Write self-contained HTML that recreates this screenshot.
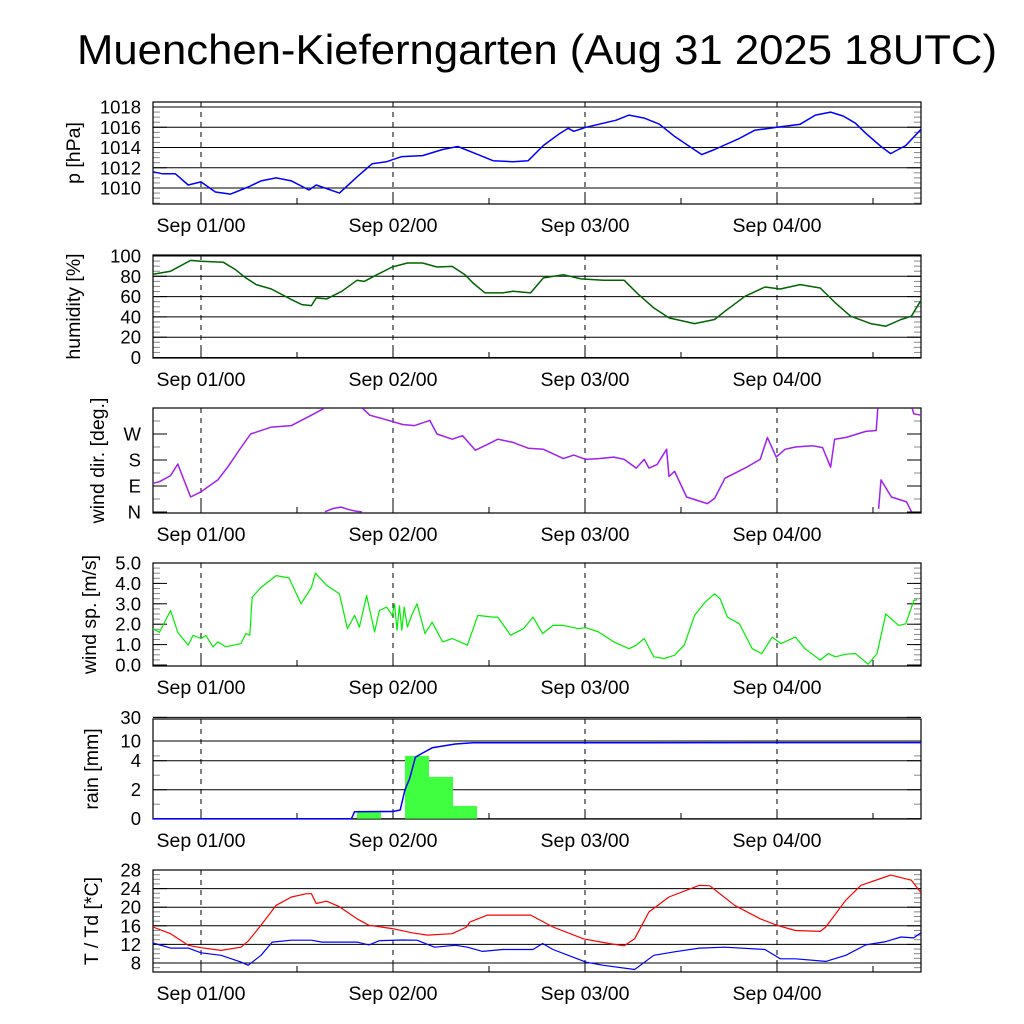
<!DOCTYPE html>
<html><head><meta charset="utf-8"><style>
body{margin:0;background:#fff}
svg{display:block;font-family:"Liberation Sans",sans-serif}
</style></head><body>
<svg id="chart" width="1024" height="1024" viewBox="0 0 1024 1024">
<rect width="1024" height="1024" fill="#fff"/>
<text x="537" y="64" font-size="42" text-anchor="middle" textLength="920" lengthAdjust="spacingAndGlyphs">Muenchen-Kieferngarten (Aug 31 2025 18UTC)</text>
<g id="g"></g>
</svg>
<script>
// ---- data (hours since Aug 31 18UTC) ----
const dayLabels=["Sep 01/00","Sep 02/00","Sep 03/00","Sep 04/00"];
const dayHours=[6,30,54,78];
const pHours=[0,1.2,2.8,4.4,6,7.8,9.7,11.9,13.5,15.4,17.3,19.5,20.4,23.3,25.5,27.4,29.2,31.1,33.7,36.2,38.1,40,42.5,45,46.9,48.8,50.7,51.9,52.6,54.1,56.3,57.9,59.5,61.4,63.3,65.2,66.7,68.6,70.2,73.3,75.2,78,80.9,82.8,84.7,86.3,87.8,89.1,91,92.2,94.1,96];
const pVals=[1011.6,1011.4,1011.4,1010.3,1010.6,1009.6,1009.4,1010.1,1010.7,1011.0,1010.7,1009.8,1010.3,1009.5,1011.1,1012.4,1012.6,1013.1,1013.2,1013.8,1014.1,1013.5,1012.7,1012.6,1012.7,1014.2,1015.3,1015.9,1015.6,1016.0,1016.4,1016.7,1017.2,1016.9,1016.3,1015.1,1014.3,1013.3,1013.8,1014.9,1015.7,1016.0,1016.3,1017.2,1017.5,1017.1,1016.4,1015.4,1014.1,1013.4,1014.2,1015.8];
const hHours=[0,2.2,4.7,6,8.8,10.3,11.6,12.9,14.8,17.3,18.6,19.8,20.4,21.7,23.6,25.5,26.4,28,29.9,31.8,33.7,35.5,37.4,39,40,41.5,43.7,45,47.2,48.8,51.3,53.5,56.3,58.9,60.7,62.6,64.5,67.7,70.2,71.5,74,76.5,78.4,80.9,83.4,85.3,87.2,89.7,91.6,93.5,94.8,96];
const hVals=[82,85,95.7,94.8,93.8,86.6,78.4,71.8,67.5,57,52.1,51.1,58.7,57.7,65.2,76.1,75,81.6,89.2,93.1,93.1,89.2,89.8,81.6,73.4,63.6,63.6,65.2,63.6,78.4,81.6,77.4,76.1,76.1,62,48.9,39,33.4,37.4,45.6,60.3,69.5,67.5,71.8,68.5,53.8,40.7,33.4,30.8,37.4,40.7,56.4];
const dHours=[0,0.8,2.2,3.1,3.7,4.7,6,8.1,9.4,10.7,12.2,14.8,17.3,19.8,21.4,21.5,22.5,23.5,24.5,25.5,26.1,26.2,27.1,28.7,31.2,32.7,34.6,35.5,37.4,38.7,40.3,41.9,43.1,45,46.9,48.8,51.3,52.6,54.1,55.7,57.6,58.9,60.4,61.4,62,63,64.2,64.5,65.2,66.7,69.3,70.2,71.5,74,75.9,76.8,77.9,79,80.3,82.5,83.7,84.7,85.2,86.6,89.1,90.4,90.6,90.7,91,92.3,94.2,94.8,94.9,95.1,96];
const dVals=[99.5,105,126,166,123,52,70,111,158,211,270,294,299,335,359,1,12,17,8,2,1,359,335,323,303,299,317,270,252,264,214,235,252,241,221,217,185,197,182,185,190,182,152,182,152,164,217,123,141,52,29,47,117,152,182,258,190,217,225,229,223,155,252,258,279,282,359,11,111,52,35,1,359,340,335];
const sHours=[0,0.8,2.2,3.1,4.4,5,6,6.6,7.5,8.1,9.1,11,11.6,12.1,12.4,13.5,15.4,17,18.5,19.8,20.3,21.7,23.3,24.3,25.2,25.8,26.7,27.7,28.3,29.2,29.9,30.2,30.5,30.8,31.1,31.4,31.8,32.4,33,34,34.9,36.2,37.4,38.4,39.3,40.6,42.5,43.1,44.7,46.3,47.5,48.7,50,51.3,53.2,54.1,55.7,57.6,59.5,60.4,61.4,62.6,63.9,65.2,66.4,67.7,69,70.2,70.9,71.8,73.3,74.9,76.1,77.4,78.5,80.3,81.5,83.4,84.4,85.3,86.6,87.8,89.4,90.5,91.6,93.2,94.1,95.1,95.5,96];
const sVals=[1.78,1.6,2.67,1.6,0.97,1.45,1.3,1.45,0.89,1.13,0.89,1.05,1.54,1.46,3.33,3.8,4.38,4.27,3.0,3.8,4.5,3.9,3.49,1.78,2.43,1.86,3.4,1.62,2.67,2.84,2.43,3.0,1.7,2.9,1.7,2.84,1.86,2.5,3.0,1.54,2.1,1.13,1.3,1.13,0.97,2.43,2.35,2.35,1.46,1.78,2.35,1.54,1.94,1.94,1.78,1.83,1.62,1.13,0.8,0.97,1.3,0.4,0.32,0.48,0.97,2.43,3.08,3.49,3.24,2.35,2.02,0.8,0.56,1.37,1.05,1.37,0.8,0.24,0.56,0.4,0.53,0.56,0.04,0.56,2.5,1.94,2.02,3.16,3.2].slice(0,90);
const rainBinStart=[25.5,28.5,31.5,34.5,37.5];
const rainBinVals=[0.48,0,5.0,2.88,0.88];
const rainCumHours=[0,24.8,25.2,30,30.9,31.5,32.1,32.8,33.6,34.9,37.8,40,96];
const rainCumVals=[0,0,0.48,0.5,0.6,2.0,2.8,4.7,5.6,7.3,8.7,9.2,9.3];
const tHours=[0,2.2,4.4,6,8.5,11,11.9,13.5,15.4,17.3,19.2,19.8,20.4,21.7,23.3,25.5,27,29.9,32.4,34.3,37.4,39.2,39.6,41.8,45,47.2,50,53.8,57,58.9,60.2,62,64.5,68.3,69.6,72.7,75.9,78,80.3,83.4,84.1,86.6,88.5,92.2,94.8,96];
const tVals=[15.75,14.3,11.8,11.3,10.7,11.4,12.7,16.1,20.4,22.2,22.9,22.9,20.8,21.3,20.1,17.5,16.1,15.4,14.5,14,14.3,15.75,16.8,18.3,18.3,18.3,15.75,13.2,12.2,11.7,13.2,19,22.2,24.7,24.6,20.4,17.5,16.1,15.0,14.8,15.75,21.5,24.7,26.9,25.8,23.1];
const tdHours=[0,2.2,4.4,6,8.5,11,11.9,13.5,14.9,17.3,19.8,21.1,23.6,25.5,27,28.3,31.1,33,35.2,37.8,39.3,41.2,43.7,47.5,48.7,50,51.9,54.1,56.3,60.2,62.6,65.2,68.3,71.5,76.5,78.4,80.3,84.1,86.6,89.1,91.6,93.5,95.1,96];
const tdVals=[12.3,11.2,11.2,10.2,9.65,8.2,7.5,9.65,12.5,12.9,12.9,12.5,12.5,12.5,11.9,12.8,12.95,12.9,11.4,11.8,11.4,10.5,10.9,10.9,12.2,10.9,9.65,8.2,7.5,6.6,9.65,10.4,11.2,11.4,10.9,8.9,8.9,8.35,9.65,11.9,12.6,13.6,13.4,14.5];

// ---- drawing ----
const NS="http://www.w3.org/2000/svg";
const G=document.getElementById('g');
const X0=153,X1=921;
const xOf=h=>X0+h*(X1-X0)/96;
function mk(tag,attrs,parent){const e=document.createElementNS(NS,tag);for(const k in attrs)e.setAttribute(k,attrs[k]);(parent||G).appendChild(e);return e;}
function lin(v0,y0,v1,y1){return v=>y0+(v-v0)*(y1-y0)/(v1-v0);}
function linePath(hs,vs,yf){let d='';for(let i=0;i<Math.min(hs.length,vs.length);i++)d+=(i?'L':'M')+xOf(hs[i]).toFixed(1)+','+yf(vs[i]).toFixed(1);return d;}

function panel(name,top,bot,title,titleX,yf,ticks,grid,minor){
  const g=mk('g',{});
  
  
  if(grid){ticks.forEach(t=>{const y=yf(t[0]);const l=mk('line',{x1:X0,x2:X1,y1:y,y2:y,stroke:'#000','stroke-width':1},g);
    
    });}
  (minor||[]).forEach(v=>{const y=yf(v);mk('line',{x1:X0,x2:X0+7,y1:y,y2:y,stroke:'#888','stroke-width':1},g);mk('line',{x1:X1-7,x2:X1,y1:y,y2:y,stroke:'#888','stroke-width':1},g);});
  ticks.forEach(t=>{const y=yf(t[0]);
    mk('line',{x1:X0,x2:X0+14,y1:y,y2:y,stroke:'#000','stroke-width':1},g);
    mk('line',{x1:X1-14,x2:X1,y1:y,y2:y,stroke:'#000','stroke-width':1},g);
    const tx=mk('text',{x:141,y:y+6.5,'font-size':18.5,'text-anchor':'end'},g);tx.textContent=t[1];
    
    });
  dayHours.forEach((h,i)=>{const x=xOf(h);
    mk('line',{x1:x,x2:x,y1:top,y2:bot,stroke:'#000','stroke-width':1,'stroke-dasharray':'5,5'},g);
    mk('line',{x1:x,x2:x,y1:bot-10,y2:bot,stroke:'#000','stroke-width':1},g);
    const tx=mk('text',{x:x,y:bot+28,'font-size':19.5,'text-anchor':'middle'},g);tx.textContent=dayLabels[i];
    
    });
  [18,42,66,90].forEach(h=>{const x=xOf(h);mk('line',{x1:x,x2:x,y1:bot-6,y2:bot,stroke:'#000','stroke-width':1},g);});
  const fr=mk('rect',{x:X0,y:top,width:X1-X0,height:bot-top,fill:'none',stroke:'#000','stroke-width':1.2},g);
  
  
  const cy=(top+bot)/2;
  const tt=mk('text',{x:titleX,y:cy,'font-size':19.5,'text-anchor':'middle',transform:`rotate(-90 ${titleX} ${cy})`},g);tt.textContent=title;
  
  
  return g;
}
function series(g,name,d,color,w){const p=mk('path',{d:d,fill:'none',stroke:color,'stroke-width':w||1.5,'stroke-linejoin':'round'},g);
  
  return p;}

const yP=lin(1010,188,1018,107);
let mp=[];for(let v=1008.5;v<=1018.3;v+=0.5)mp.push(v);
let g1=panel('pressure',102,204,'p [hPa]',80,yP,[[1010,'1010'],[1012,'1012'],[1014,'1014'],[1016,'1016'],[1018,'1018']],true,mp);
series(g1,'pressure-line',linePath(pHours,pVals,yP),'#0000ff');

const yH=lin(0,357.5,100,256);
let mh=[];for(let v=5;v<100;v+=5)mh.push(v);
let g2=panel('humidity',255,358,'humidity [%]',80,yH,[[0,'0'],[20,'20'],[40,'40'],[60,'60'],[80,'80'],[100,'100']],true,mh);
series(g2,'humidity-line',linePath(hHours,hVals,yH),'#006400');

const yD=lin(0,512,360,408);
let g3=panel('wind-direction',408,513,'wind dir. [deg.]',104,yD,[[0,'N'],[90,'E'],[180,'S'],[270,'W']],false,[45,135,225,315]);
(function(){let d='';for(let i=0;i<dHours.length;i++){const x=xOf(dHours[i]).toFixed(1),y=yD(dVals[i]).toFixed(1);
  const brk=i===0||Math.abs(dVals[i]-dVals[i-1])>180;d+=(brk?'M':'L')+x+','+y;}
  series(g3,'wind-direction-line',d,'#a020f0');})();

const yS=lin(0,665,5,563);
let ms=[];for(let v=0.25;v<5;v+=0.25)ms.push(v);
let g4=panel('wind-speed',563,666,'wind sp. [m/s]',96,yS,[[0,'0.0'],[1,'1.0'],[2,'2.0'],[3,'3.0'],[4,'4.0'],[5,'5.0']],false,ms);
series(g4,'wind-speed-line',linePath(sHours,sVals,yS),'#00ee00',1.2);

const yR=v=>v<=4?818.7-v*14.5:760.7-Math.log(v/4)*21.5;
let g5=panel('rain',719,819,'rain [mm]',98,yR,[[0,'0'],[2,'2'],[4,'4'],[10,'10'],[30,'30']],true,[1,3,5]);
rainBinStart.forEach((h,i)=>{if(rainBinVals[i]<=0)return;const x=xOf(h),w=xOf(h+3)-x,y=yR(rainBinVals[i]);
  const r=mk('rect',{x:x,y:y,width:w,height:yR(0)-y,fill:'#40ff40'},g5);
  
  });
series(g5,'rain-cumulative-line',linePath(rainCumHours,rainCumVals,yR),'#0000ff');

const yT=lin(8,963,28,870);
let mt=[];for(let v=7;v<28;v+=1)mt.push(v);
let g6=panel('temperature',870,972,'T / Td [*C]',98,yT,[[8,'8'],[12,'12'],[16,'16'],[20,'20'],[24,'24'],[28,'28']],true,mt);
series(g6,'temperature-line',linePath(tHours,tVals,yT),'#ff0000',1.2);
series(g6,'dewpoint-line',linePath(tdHours,tdVals,yT),'#0000ff',1.2);
</script>
</body></html>
